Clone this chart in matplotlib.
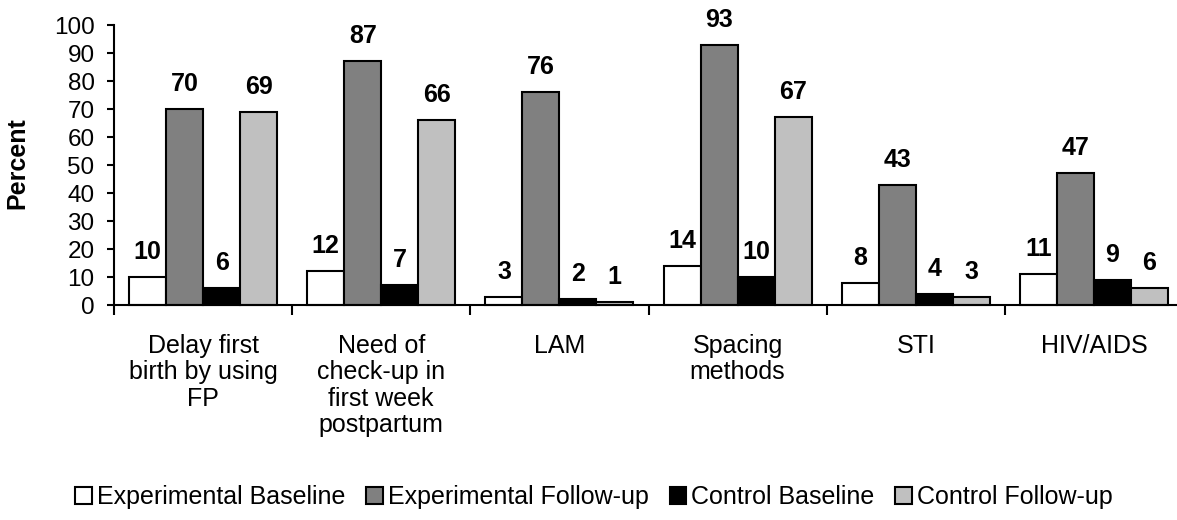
import numpy as np
import matplotlib.pyplot as plt

plt.rcParams['font.family'] = ['Liberation Sans', 'DejaVu Sans']

categories = ["Delay first\nbirth by using\nFP", "Need of\ncheck-up in\nfirst week\npostpartum",
              "LAM", "Spacing\nmethods", "STI", "HIV/AIDS"]
series_names = ["Experimental Baseline", "Experimental Follow-up", "Control Baseline", "Control Follow-up"]
exp_base = [10, 12, 3, 14, 8, 11]
exp_follow = [70, 87, 76, 93, 43, 47]
ctrl_base = [6, 7, 2, 10, 4, 9]
ctrl_follow = [69, 66, 1, 67, 3, 6]
colors = ["#ffffff", "#808080", "#000000", "#c0c0c0"]

fig = plt.figure(figsize=(11.77, 5.2), dpi=100)
ax = fig.add_axes([114 / 1177, 1 - 305 / 520, 1069 / 1177, 280 / 520])

x = np.arange(len(categories))
w = 0.2075
for i, (vals, c, name) in enumerate(zip([exp_base, exp_follow, ctrl_base, ctrl_follow], colors, series_names)):
    pos = x + (i - 1.5) * w
    ax.bar(pos, vals, w, color=c, edgecolor='black', linewidth=1.5, label=name, clip_on=False)
    for p, v in zip(pos, vals):
        ax.annotate(str(v), (p, v), xytext=(0, 13), textcoords='offset points',
                    ha='center', va='baseline', fontsize=18, fontweight='bold')

ax.set_xlim(-0.5, len(categories) - 0.5)
ax.set_ylim(0, 100)
ax.set_yticks(range(0, 101, 10))
ax.tick_params(axis='y', labelsize=17.5, length=5, width=1.5, direction='out', pad=9)
ax.set_xticks(x)
ax.set_xticklabels(categories, fontsize=18, linespacing=1.12, va='top')
ax.tick_params(axis='x', length=0, pad=21)
ax.set_xticks(np.arange(-0.5, len(categories) + 0.5, 1), minor=True)
ax.tick_params(axis='x', which='minor', length=7, width=1.5, direction='out')
ax.spines['top'].set_visible(False)
ax.spines['right'].set_visible(False)
ax.spines['left'].set_linewidth(1.5)
ax.spines['bottom'].set_linewidth(1.5)
ax.set_ylabel("Percent", fontsize=18, fontweight='bold')
ax.yaxis.set_label_coords(-0.079, 0.507)

fig.legend(loc='center', bbox_to_anchor=(594 / 1177, 1 - 497 / 520), ncol=4, frameon=False,
           fontsize=18, handlelength=0.65, handleheight=0.65, handletextpad=0.2, columnspacing=0.85)

fig.savefig("out.png", dpi=100)
